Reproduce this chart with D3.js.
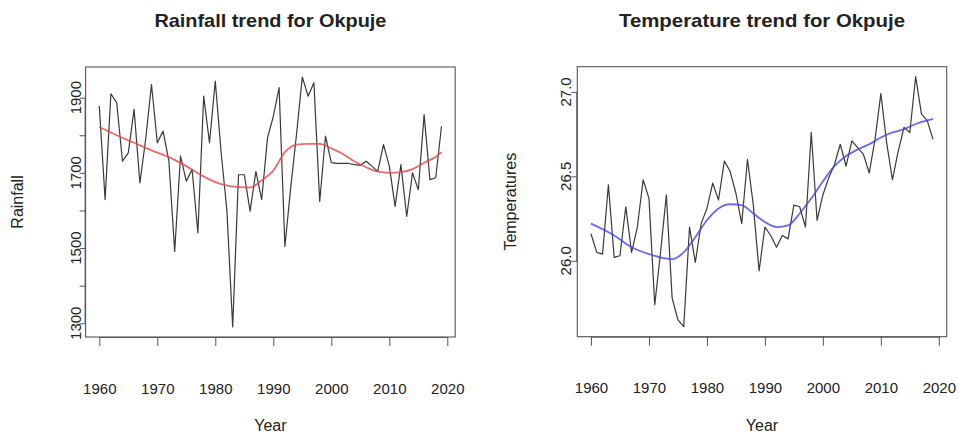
<!DOCTYPE html>
<html><head><meta charset="utf-8">
<script src="https://cdn.jsdelivr.net/npm/d3@7"></script>
<style>
body{margin:0;background:#fff}
svg{display:block}
text{font-family:"Liberation Sans",Arial,Helvetica,sans-serif;fill:#222}
</style>
</head><body>
<svg id="chart" width="959" height="438"></svg>
<script>
// ---------------- data ----------------
const years = [1960,1961,1962,1963,1964,1965,1966,1967,1968,1969,
  1970,1971,1972,1973,1974,1975,1976,1977,1978,1979,
  1980,1981,1982,1983,1984,1985,1986,1987,1988,1989,
  1990,1991,1992,1993,1994,1995,1996,1997,1998,1999,
  2000,2001,2002,2003,2004,2005,2006,2007,2008,2009,
  2010,2011,2012,2013,2014,2015,2016,2017,2018,2019];

const rainfall = [1878,1629,1910,1887,1731,1753,1869,1673,1790,1935,
  1780,1811,1731,1491,1745,1678,1709,1540,1904,1780,
  1944,1755,1600,1290,1695,1695,1598,1704,1629,1793,
  1850,1927,1504,1660,1802,1955,1904,1940,1624,1798,
  1727,1725,1725,1725,1722,1720,1731,1718,1704,1775,
  1718,1611,1722,1584,1700,1655,1855,1682,1687,1824];

const rainfallSmoothYears = [1960,1963,1966,1969,1972,1975,1978,1981,1984,1986,1988,1990,1992,1994,1996,1998,2000,2002,2004,2006,2008,2010,2012,2014,2016,2018,2019];
const rainfallSmooth = [1822,1800,1780,1760,1742,1718,1690,1670,1662,1661,1680,1706,1755,1775,1777,1777,1765,1750,1730,1715,1703,1700,1702,1710,1727,1743,1755];

const temperature = [26.16,26.05,26.04,26.45,26.02,26.03,26.32,26.05,26.20,26.48,
  26.37,25.74,26.05,26.39,25.78,25.65,25.61,26.20,25.99,26.22,
  26.31,26.46,26.36,26.59,26.53,26.40,26.22,26.60,26.33,25.94,
  26.20,26.15,26.08,26.15,26.13,26.33,26.32,26.20,26.76,26.24,
  26.39,26.49,26.57,26.69,26.56,26.71,26.67,26.63,26.52,26.72,
  26.99,26.70,26.48,26.65,26.79,26.76,27.09,26.87,26.83,26.72];

const tempSmoothYears = [1960,1964,1967,1970,1974,1976,1978,1980,1982,1984,1986,1988,1990,1992,1994,1996,1998,2000,2002,2004,2006,2008,2010,2012,2014,2016,2019];
const tempSmooth = [26.22,26.15,26.08,26.04,26.01,26.05,26.14,26.24,26.31,26.335,26.33,26.28,26.23,26.20,26.21,26.28,26.37,26.47,26.56,26.62,26.66,26.69,26.73,26.76,26.78,26.81,26.84];

const xTickValues = [1960,1970,1980,1990,2000,2010,2020];
const rainTickValues = [1300,1400,1500,1600,1700,1800,1900];
const rainTickLabels = ["1300","","1500","","1700","","1900"];
const tempTickValues = [26.0,26.5,27.0];
const tempTickLabels = ["26.0","26.5","27.0"];

const titles = ["Rainfall trend for Okpuje","Temperature trend for Okpuje"];
const xLabels = ["Year","Year"];
const yLabels = ["Rainfall","Temperatures"];

// ---------------- drawing ----------------
const svg = d3.select("#chart");

function rExtent(vals){ // R default: 4% extension of data range
  const [a,b] = d3.extent(vals); const e = (b-a)*0.04; return [a-e,b+e];
}

function panel(cfg){
  const {left,right,top,bottom} = cfg;
  const x = d3.scaleLinear().domain(rExtent(years)).range([left,right]);
  const y = d3.scaleLinear().domain(rExtent(cfg.values)).range([bottom,top]);
  const g = svg.append("g");

  // box
  g.append("rect").attr("x",left).attr("y",top).attr("width",right-left).attr("height",bottom-top)
    .attr("fill","none").attr("stroke","#555").attr("stroke-width",1.1);

  // x axis ticks
  const xa = g.append("g").attr("transform",`translate(0,${bottom})`)
    .call(d3.axisBottom(x).tickValues(xTickValues).tickSize(9).tickPadding(37).tickFormat(d3.format("d")));
  xa.select(".domain").attr("d",`M${x(xTickValues[0])},0.5H${x(xTickValues[xTickValues.length-1])}`).attr("stroke","#555");
  xa.selectAll(".tick line").attr("stroke","#555");
  xa.selectAll(".tick text").attr("font-size",15).attr("fill","#222").style("font-family","Liberation Sans, Arial, sans-serif");

  // y axis ticks
  const ya = g.append("g").attr("transform",`translate(${left},0)`)
    .call(d3.axisLeft(y).tickValues(cfg.yTicks).tickSize(6).tickFormat(""));
  ya.select(".domain").attr("d",`M-0.5,${y(cfg.yTicks[0])}V${y(cfg.yTicks[cfg.yTicks.length-1])}`).attr("stroke","#555");
  ya.selectAll(".tick line").attr("stroke","#555");
  g.selectAll("text.ylab").data(cfg.yTicks.map((v,i)=>({v,l:cfg.yTickLabels[i]})).filter(d=>d.l!==""))
    .join("text").attr("class","ylab")
    .attr("transform",d=>`translate(${left-cfg.yLabOff},${y(d.v)}) rotate(-90)`)
    .attr("text-anchor","middle").attr("font-size",15).text(d=>d.l);

  // data line
  const line = d3.line().x((d,i)=>x(years[i])).y(d=>y(d));
  g.append("path").datum(cfg.values).attr("d",line).attr("fill","none")
    .attr("stroke","#3a3a3a").attr("stroke-width",1.2).attr("stroke-linejoin","round");

  // smooth line
  const sline = d3.line().x(d=>x(d[0])).y(d=>y(d[1])).curve(d3.curveMonotoneX);
  g.append("path").datum(cfg.smoothYears.map((yr,i)=>[yr,cfg.smooth[i]])).attr("d",sline).attr("fill","none")
    .attr("stroke",cfg.smoothColor).attr("stroke-width",1.8).attr("stroke-opacity",0.8);

  // titles & labels
  const cx = (left+right)/2;
  g.append("text").attr("x",cx).attr("y",27).attr("text-anchor","middle")
    .attr("font-size",19).attr("font-weight","bold").attr("textLength",cfg.titleLen).attr("lengthAdjust","spacingAndGlyphs")
    .text(cfg.title);
  g.append("text").attr("x",cx).attr("y",431).attr("text-anchor","middle").attr("font-size",16).text(cfg.xLabel);
  g.append("text").attr("transform",`translate(${cfg.yTitleX},${(top+bottom)/2}) rotate(-90)`)
    .attr("text-anchor","middle").attr("font-size",16).text(cfg.yLabel);
}

panel({left:85.6,right:455.2,top:67,bottom:337,values:rainfall,
  smoothYears:rainfallSmoothYears,smooth:rainfallSmooth,smoothColor:"#e04848",
  yTicks:rainTickValues,yTickLabels:rainTickLabels,yLabOff:5,
  title:titles[0],titleLen:232,xLabel:xLabels[0],yLabel:yLabels[0],yTitleX:23});

panel({left:577.3,right:946.7,top:66.7,bottom:336.7,values:temperature,
  smoothYears:tempSmoothYears,smooth:tempSmooth,smoothColor:"#4646e0",
  yTicks:tempTickValues,yTickLabels:tempTickLabels,yLabOff:6,
  title:titles[1],titleLen:286,xLabel:xLabels[1],yLabel:yLabels[1],yTitleX:516});
</script>
</body></html>
